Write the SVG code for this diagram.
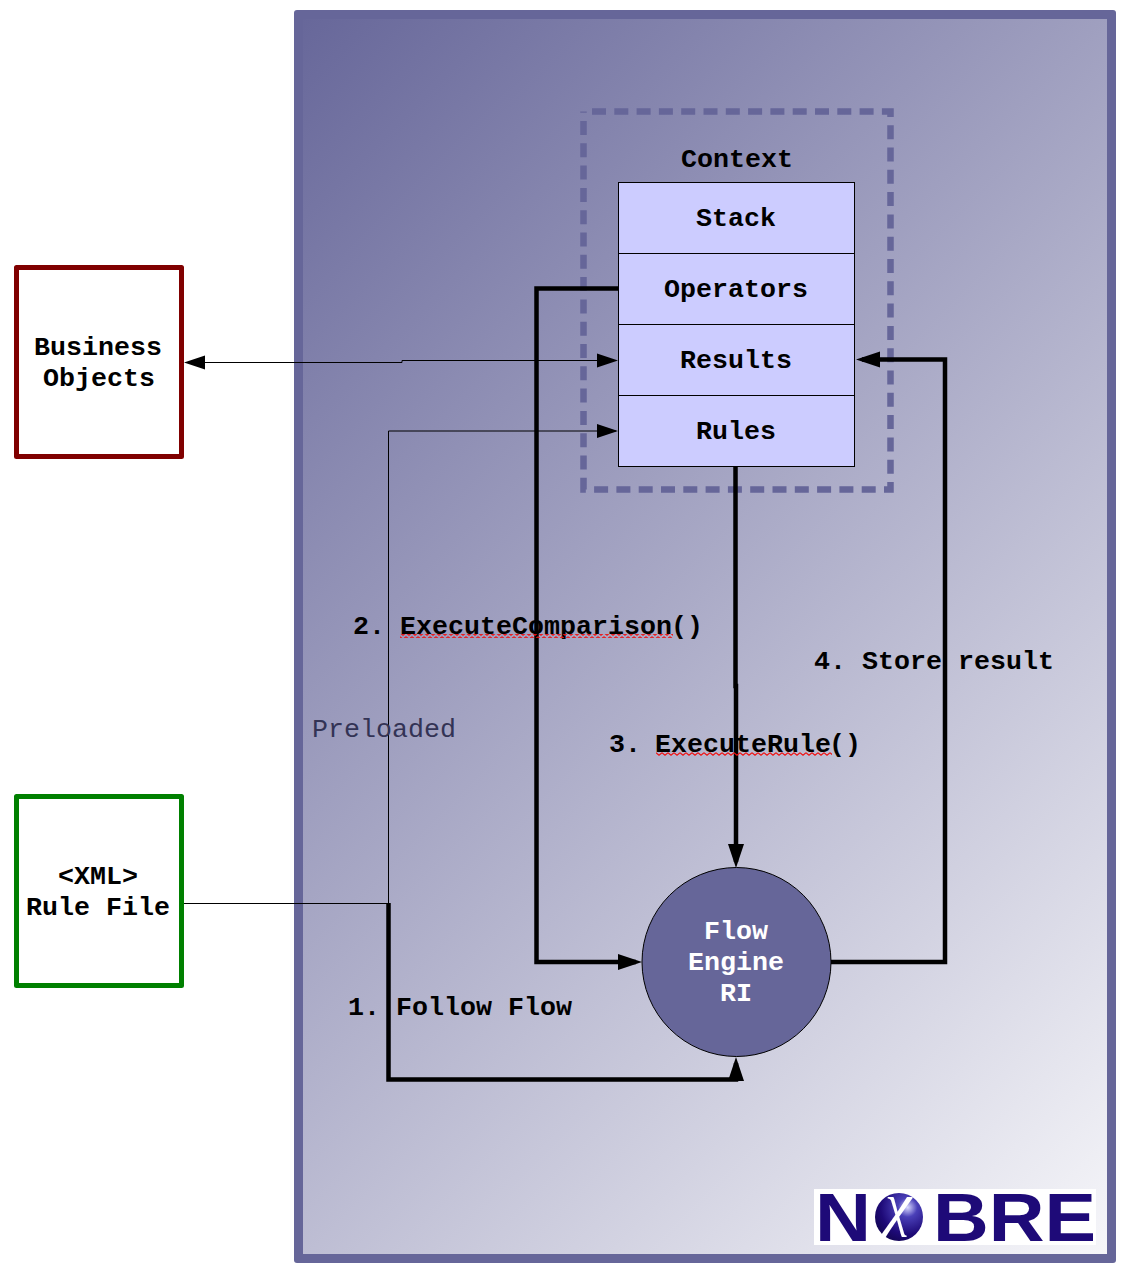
<svg xmlns="http://www.w3.org/2000/svg" width="1134" height="1276" viewBox="0 0 1134 1276">
<style>
text{font-family:"Liberation Mono",monospace;font-size:26.67px;font-weight:bold;fill:#000}
.thin,.thick{fill:none;stroke:#000;stroke-linejoin:miter}
.thin{stroke-width:1}
.thick{stroke-width:4.500}
.cell{fill:#ccccff;stroke:#000;stroke-width:1}
.ext{fill:#fff;stroke-width:5;stroke-linejoin:round}
.logo{font-family:"Liberation Sans",sans-serif;font-size:68px;font-weight:bold;fill:#1e0a78}
</style>
<defs>
<linearGradient id="bg" gradientUnits="userSpaceOnUse" x1="294" y1="10" x2="1331.5" y2="1047.5">
<stop offset="0" stop-color="#666699"/><stop offset="1" stop-color="#f7f7fa"/>
</linearGradient>
<radialGradient id="ball" cx="0.68" cy="0.3" r="0.8">
<stop offset="0" stop-color="#d8d8ff"/><stop offset="0.25" stop-color="#4a40b8"/><stop offset="0.7" stop-color="#1e0a78"/><stop offset="1" stop-color="#120550"/>
</radialGradient>
<marker id="a" markerUnits="userSpaceOnUse" markerWidth="22" markerHeight="16" refX="19" refY="8" orient="auto-start-reverse" viewBox="0 0 22 16"><path d="M0 1L21 8L0 15Z" fill="#000"/></marker>
<marker id="b" markerUnits="userSpaceOnUse" markerWidth="25" markerHeight="18" refX="18" refY="9" orient="auto" viewBox="0 0 25 18"><path d="M0 1L24 9L0 17Z" fill="#000"/></marker>
<pattern id="sq" patternUnits="userSpaceOnUse" x="400" y="0" width="6" height="4"><path d="M0 0.8L3 3.200L6 0.8" fill="none" stroke="#f01010" stroke-width="1.100"/></pattern>
<pattern id="sq2" patternUnits="userSpaceOnUse" x="656" y="0" width="6" height="4"><path d="M0 0.8L3 3.200L6 0.8" fill="none" stroke="#f01010" stroke-width="1.100"/></pattern>
</defs>
<rect width="1134" height="1276" fill="#fff"/>
<g id="panel">
<rect x="294" y="10" width="822" height="1253" rx="3" fill="#666699"/>
<rect x="303" y="19" width="804" height="1235" fill="url(#bg)"/>
</g>
<g id="context">
<path d="M592 111.500H890.500V489.500H583.500V111.500" fill="none" stroke="#666699" stroke-width="6.500" stroke-dasharray="14 8.300"/>
<text x="681" y="167">Context</text>
</g>
<g id="logo">
<rect x="814" y="1189" width="282" height="56" fill="#fff"/>
<text class="logo" x="815" y="1241" textLength="56" lengthAdjust="spacingAndGlyphs">N</text>
<circle cx="899" cy="1217" r="24" fill="url(#ball)"/>
<text x="885" y="1224" style="font-family:'Liberation Serif',serif;font-style:italic;font-size:60px;font-weight:normal;fill:#fff">χ</text>
<text class="logo" x="933" y="1241" textLength="163" lengthAdjust="spacingAndGlyphs">BRE</text>
</g>
<g id="connectors">
<path class="thin" d="M183 903.500H388.500V431H616" marker-end="url(#a)"/>
<path class="thin" d="M186 362.500H402V360.500H616" marker-start="url(#a)" marker-end="url(#a)"/>
<path class="thick" d="M388.500 903V1079.500H736V1063" marker-end="url(#b)"/>
<path class="thick" d="M618 288.500H536.500V962H636" marker-end="url(#b)"/>
<path class="thick" d="M735.500 467V686H736V862" marker-end="url(#b)"/>
<path class="thick" d="M831 962H945V359.500H862" marker-end="url(#b)"/>
</g>
<g id="stack"><rect class="cell" x="618.500" y="182.500" width="236" height="71"/><text x="696" y="226">Stack</text></g>
<g id="operators"><rect class="cell" x="618.500" y="253.500" width="236" height="71"/><text x="664" y="297">Operators</text></g>
<g id="results"><rect class="cell" x="618.500" y="324.500" width="236" height="71"/><text x="680" y="368">Results</text></g>
<g id="rules"><rect class="cell" x="618.500" y="395.500" width="236" height="71"/><text x="696" y="439">Rules</text></g>
<g id="business">
<rect class="ext" x="16.500" y="267.500" width="165" height="189" stroke="#800000"/>
<text x="34" y="355">Business</text><text x="43" y="386">Objects</text>
</g>
<g id="rulefile">
<rect class="ext" x="16.500" y="796.500" width="165" height="189" stroke="#008000"/>
<text x="58" y="884">&lt;XML&gt;</text><text x="26" y="915">Rule File</text>
</g>
<g id="engine">
<circle cx="736.500" cy="962" r="94.500" fill="#666699" stroke="#000" stroke-width="1"/>
<text x="704" y="939" style="fill:#fff">Flow</text><text x="688" y="970" style="fill:#fff">Engine</text><text x="720" y="1001" style="fill:#fff">RI</text>
</g>
<g id="labels">
<text y="634"><tspan x="353">2. </tspan><tspan x="400">ExecuteComparison</tspan><tspan x="671">()</tspan></text>
<rect x="400" y="634" width="273" height="4" fill="url(#sq)"/>
<text y="752"><tspan x="609">3. </tspan><tspan x="655">ExecuteRule</tspan><tspan x="829">()</tspan></text>
<rect x="656" y="752" width="176" height="4" fill="url(#sq2)"/>
<text x="814" y="669">4. Store result</text>
<text x="348" y="1015">1. Follow Flow</text>
<text x="312" y="737" style="font-weight:normal;fill:#333355">Preloaded</text>
</g>
</svg>
